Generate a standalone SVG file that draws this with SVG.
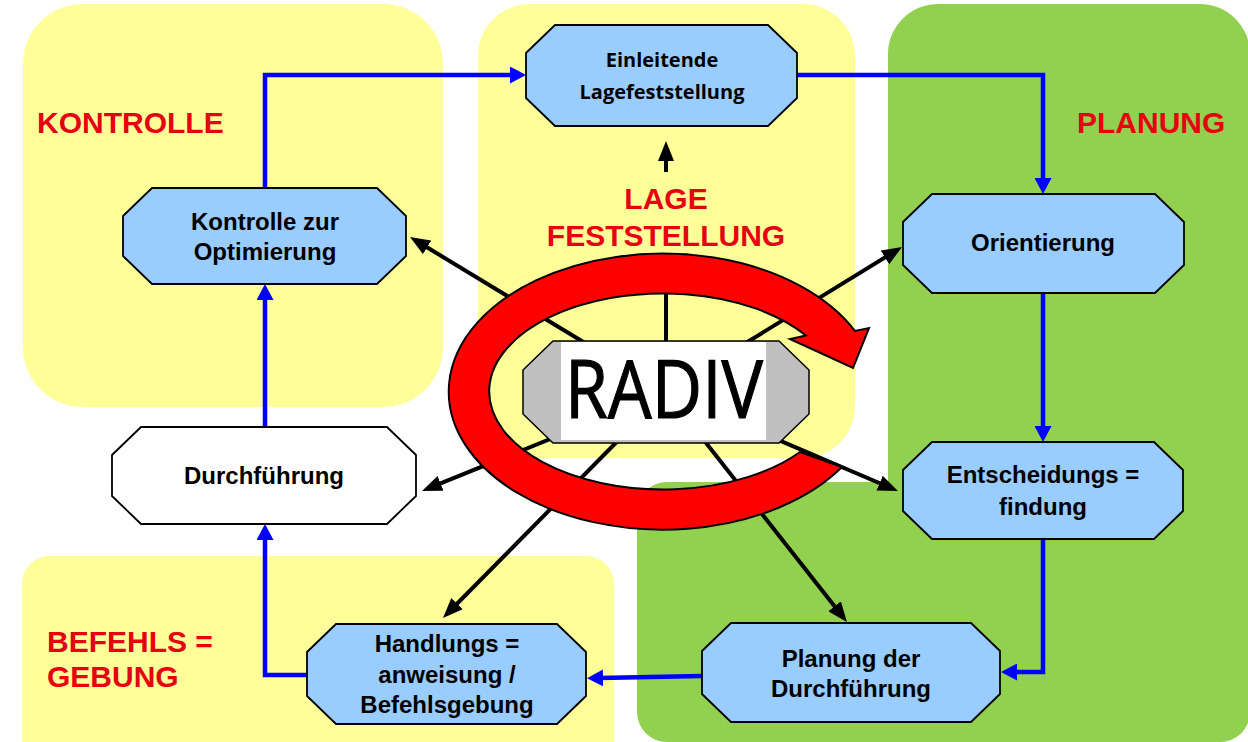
<svg xmlns="http://www.w3.org/2000/svg" width="1248" height="742" viewBox="0 0 1248 742">
<defs>
<style>
.yel{fill:#FFFF99}
.grn{fill:#92D050}
.node{fill:#99CCFF;stroke:#000;stroke-width:1.8}
.nt{font-family:"Liberation Sans",Arial,sans-serif;font-weight:bold;font-size:24px;fill:#000;text-anchor:middle}
.nt2{font-family:"Open Sans","Noto Sans",sans-serif;font-weight:bold;font-size:20px;fill:#000;text-anchor:middle}
.lbl{font-family:"Liberation Sans",Arial,sans-serif;font-weight:bold;font-size:30px;fill:#E60012}
.spoke{stroke:#000;stroke-width:4;fill:none;marker-end:url(#ah)}
.blue{stroke:#0000FF;stroke-width:4.5;fill:none;marker-end:url(#bh)}
</style>
<marker id="ah" viewBox="0 0 20 16" refX="6" refY="8" markerWidth="20" markerHeight="16" markerUnits="userSpaceOnUse" orient="auto">
<path d="M0,0 L20,8 L0,16 z" fill="#000"/>
</marker>
<marker id="bh" viewBox="0 0 16 17" refX="4" refY="8.5" markerWidth="16" markerHeight="17" markerUnits="userSpaceOnUse" orient="auto">
<path d="M0,0 L16,8.5 L0,17 z" fill="#0000FF"/>
</marker>
</defs>
<rect width="1248" height="742" fill="#fff"/>
<g id="backgrounds">
<rect class="yel" x="23" y="4" width="420" height="403" rx="60"/>
<rect class="yel" x="478" y="4" width="377" height="454" rx="52"/>
<rect class="grn" x="888" y="4" width="362" height="738" rx="50"/>
<rect class="grn" x="637" y="482" width="613" height="260" rx="30"/>
<rect class="yel" x="22" y="556" width="592" height="220" rx="28"/>
</g>
<g id="labels">
<text class="lbl" x="37" y="133">KONTROLLE</text>
<text class="lbl" x="1077" y="133">PLANUNG</text>
<text class="lbl" x="666" y="209" text-anchor="middle">LAGE</text>
<text class="lbl" x="666" y="246" text-anchor="middle">FESTSTELLUNG</text>
<text class="lbl" x="47" y="652">BEFEHLS =</text>
<text class="lbl" x="47" y="687">GEBUNG</text>
</g>
<g id="connectors">
<line class="spoke" x1="666" y1="392" x2="422" y2="244.3"/>
<line class="spoke" x1="666" y1="392" x2="890.1" y2="254.3"/>
<line class="spoke" x1="666" y1="392" x2="885.1" y2="485.5"/>
<line class="spoke" x1="666" y1="392" x2="838.3" y2="611"/>
<line class="spoke" x1="666" y1="392" x2="452.8" y2="608"/>
<line class="spoke" x1="666" y1="392" x2="435" y2="485.7"/>
<line x1="666" y1="392" x2="666" y2="258" stroke="#000" stroke-width="4"/>
<line class="spoke" x1="666" y1="172" x2="666" y2="155"/>
<path class="blue" d="M265,188 V75 H514"/>
<path class="blue" d="M797,75 H1043 V182"/>
<path class="blue" d="M1043,293 V430"/>
<path class="blue" d="M1043,539 V672 H1013"/>
<path class="blue" d="M702,676 L599,678"/>
<path class="blue" d="M307,675 H265 V536"/>
<path class="blue" d="M265,427 V296"/>
</g>
<g id="cycle-arrow">
<path d="M842,467 A214,138 0 1 1 855,331 L869,328 L853,368 L790,339 L806,335.5 A174,98 0 1 0 800,452 Z" fill="#FF0000" stroke="#000" stroke-width="2" stroke-linejoin="miter"/>
</g>
<g id="node-radiv">
<polygon points="553,341 779,341 809,370 809,414 779,443 553,443 523,414 523,370" fill="#C0C0C0" stroke="#000" stroke-width="1.5"/>
<rect x="561" y="342" width="205" height="98" fill="#fff"/>
<text x="664" y="418" font-family="Open Sans, Noto Sans, sans-serif" font-size="80" text-anchor="middle" textLength="198" lengthAdjust="spacingAndGlyphs" fill="#000" stroke="#000" stroke-width="1.2">RADIV</text>
</g>
<g id="node-einleitende">
<polygon class="node" points="555,25 768,25 797,53 797,98 768,126 555,126 526,98 526,53"/>
<text class="nt2" x="662" y="67">Einleitende</text>
<text class="nt2" x="662" y="99">Lagefeststellung</text>
</g>
<g id="node-kontrolle">
<polygon class="node" points="152,188 377,188 406,216 406,256 377,284 152,284 123,256 123,216"/>
<text class="nt" x="265" y="230">Kontrolle zur</text>
<text class="nt" x="265" y="260">Optimierung</text>
</g>
<g id="node-orientierung">
<polygon class="node" points="932,194 1155,194 1184,222 1184,265 1155,293 932,293 903,265 903,222"/>
<text class="nt" x="1043" y="251">Orientierung</text>
</g>
<g id="node-entscheidung">
<polygon class="node" points="932,442 1154,442 1183,470 1183,511 1154,539 932,539 903,511 903,470"/>
<text class="nt" x="1043" y="483">Entscheidungs =</text>
<text class="nt" x="1043" y="515">findung</text>
</g>
<g id="node-planung">
<polygon class="node" points="731,623 971,623 1000,651 1000,694 971,722 731,722 702,694 702,651"/>
<text class="nt" x="851" y="667">Planung der</text>
<text class="nt" x="851" y="697">Durchführung</text>
</g>
<g id="node-handlung">
<polygon class="node" points="336,624 557,624 586,652 586,696 557,724 336,724 307,696 307,652"/>
<text class="nt" x="447" y="652">Handlungs =</text>
<text class="nt" x="447" y="683">anweisung /</text>
<text class="nt" x="447" y="713">Befehlsgebung</text>
</g>
<g id="node-durchfuehrung">
<polygon points="141,427 387,427 416,455 416,496 387,524 141,524 112,496 112,455" fill="#fff" stroke="#000" stroke-width="1.8"/>
<text class="nt" x="264" y="484">Durchführung</text>
</g>
</svg>
